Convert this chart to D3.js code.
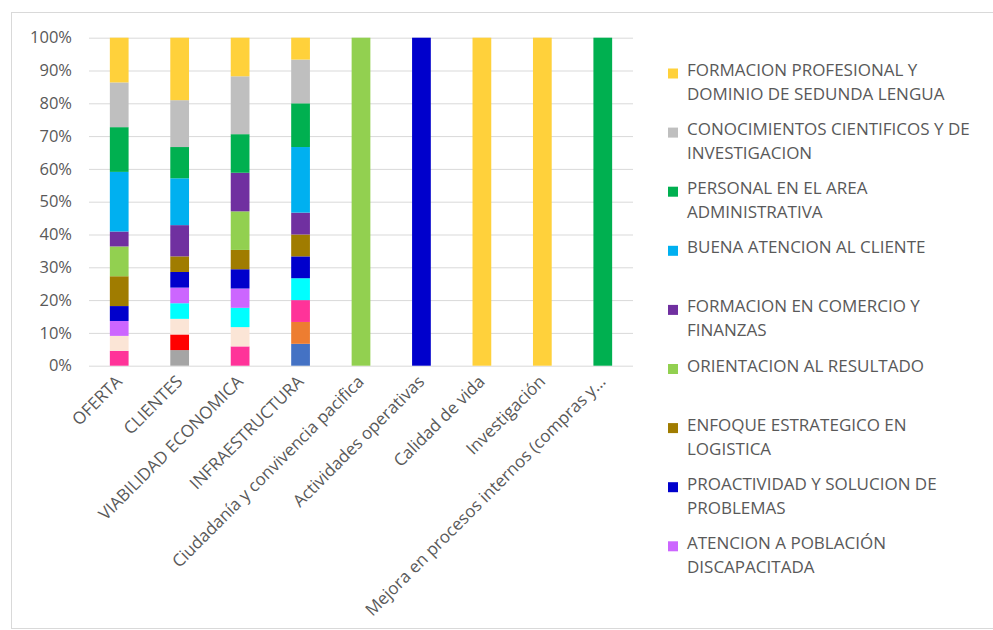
<html>
  <head>
        <meta charset="utf-8">
        <title>Factores por área</title>
        <style>
          body { margin: 0; background: #fff; }
          text { font-family: "Open Sans", sans-serif; fill: #595959; }
        </style>
  </head>
<body>

<script src="https://cdn.jsdelivr.net/npm/d3@7/dist/d3.min.js" charset="utf-8"></script>
<script>

// categorías del eje x
var categories = ["OFERTA", "CLIENTES", "VIABILIDAD ECONOMICA", "INFRAESTRUCTURA",
	"Ciudadanía y convivencia pacifica", "Actividades operativas", "Calidad de vida",
	"Investigación", "Mejora en procesos internos (compras y..."];

// series, de abajo hacia arriba en cada barra
var seriesNames = ["Serie 1", "Serie 2", "Serie 3", "Serie 4", "Serie 5", "Serie 6", "Serie 7",
	"ATENCION A POBLACIÓN DISCAPACITADA",
	"PROACTIVIDAD Y SOLUCION DE PROBLEMAS",
	"ENFOQUE ESTRATEGICO EN LOGISTICA",
	"ORIENTACION AL RESULTADO",
	"FORMACION EN COMERCIO Y FINANZAS",
	"BUENA ATENCION AL CLIENTE",
	"PERSONAL EN EL AREA ADMINISTRATIVA",
	"CONOCIMIENTOS CIENTIFICOS Y DE INVESTIGACION",
	"FORMACION PROFESIONAL Y DOMINIO DE SEDUNDA LENGUA"];

// conteos por serie (mismo orden que categories)
var s1  = [0, 0, 0, 1, 0, 0, 0, 0, 0];
var s2  = [0, 0, 0, 1, 0, 0, 0, 0, 0];
var s3  = [0, 1, 0, 0, 0, 0, 0, 0, 0];
var s4  = [0, 1, 0, 0, 0, 0, 0, 0, 0];
var s5  = [1, 0, 1, 1, 0, 0, 0, 0, 0];
var s6  = [1, 1, 1, 0, 0, 0, 0, 0, 0];
var s7  = [0, 1, 1, 1, 0, 0, 0, 0, 0];
var s8  = [1, 1, 1, 0, 0, 0, 0, 0, 0];
var s9  = [1, 1, 1, 1, 0, 1, 0, 0, 0];
var s10 = [2, 1, 1, 1, 0, 0, 0, 0, 0];
var s11 = [2, 0, 2, 0, 1, 0, 0, 0, 0];
var s12 = [1, 2, 2, 1, 0, 0, 0, 0, 0];
var s13 = [4, 3, 0, 3, 0, 0, 0, 0, 0];
var s14 = [3, 2, 2, 2, 0, 0, 0, 0, 1];
var s15 = [3, 3, 3, 2, 0, 0, 0, 0, 0];
var s16 = [3, 4, 2, 1, 0, 0, 1, 1, 0];
var seriesValues = [s1, s2, s3, s4, s5, s6, s7, s8, s9, s10, s11, s12, s13, s14, s15, s16];

var yTicks = [0, 0.1, 0.2, 0.3, 0.4, 0.5, 0.6, 0.7, 0.8, 0.9, 1];

var colors = ["#4472C4", "#ED7D31", "#A5A5A5", "#FF0000", "#FF3399", "#FBE5D6", "#00FFFF",
	"#CC66FF", "#0000CC", "#A07C00", "#92D050", "#7030A0", "#00B0F0", "#00B050",
	"#BFBFBF", "#FFD13B"];

var width  = 993;
var height = 630;

var svg = d3.select("body")
			.append("svg")
			.attr("width", width)
			.attr("height", height);

// marco del gráfico
svg.append("rect")
	.attr("x", 11.5).attr("y", 12.5)
	.attr("width", 1000).attr("height", 616)
	.attr("fill", "#fff")
	.attr("stroke", "#D9D9D9");

var plot = { left: 89, right: 633, top: 37.7, bottom: 365.7 };

// tabla para d3.stack
var table = categories.map(function(c, i){
	var row = { cat: c };
	seriesNames.forEach(function(n, j){ row[j] = seriesValues[j][i]; });
	return row;
});

var stack = d3.stack()
			.keys(d3.range(seriesNames.length))
			.offset(d3.stackOffsetExpand);
var layers = stack(table);

var x = d3.scaleBand()
		.domain(categories)
		.range([plot.left, plot.right])
		.paddingInner(0.69)
		.paddingOuter(0.345);

var y = d3.scaleLinear()
		.domain([0, 1])
		.range([plot.bottom, plot.top]);

// líneas de la cuadrícula y etiquetas del eje y
var yAxis = d3.axisLeft(y)
		.tickValues(yTicks)
		.tickFormat(d3.format(".0%"))
		.tickSize(-(plot.right - plot.left))
		.tickPadding(17);

var gy = svg.append("g")
		.attr("transform", "translate(" + plot.left + ",0)")
		.call(yAxis);
gy.select(".domain").remove();
gy.selectAll("line").attr("stroke", "#D9D9D9");
gy.selectAll("text")
	.attr("font-size", "16.5px")
	.attr("font-family", "'Open Sans', sans-serif")
	.attr("fill", "#595959");

// barras apiladas
svg.selectAll("g.layer")
	.data(layers)
	.enter()
	.append("g")
	.attr("class", "layer")
	.attr("fill", function(d){ return colors[d.key]; })
	.selectAll("rect")
	.data(function(d){ return d; })
	.enter()
	.append("rect")
	.attr("x", function(d){ return x(d.data.cat); })
	.attr("y", function(d){ return y(d[1]); })
	.attr("width", x.bandwidth())
	.attr("height", function(d){ return y(d[0]) - y(d[1]); });

// etiquetas del eje x
var xAxis = d3.axisBottom(x).tickSize(0).tickPadding(0);
var gx = svg.append("g")
		.attr("transform", "translate(0," + plot.bottom + ")")
		.call(xAxis);
gx.select(".domain").remove();
gx.selectAll("text")
	.attr("font-size", "17px")
	.attr("font-family", "'Open Sans', sans-serif")
	.attr("fill", "#595959")
	.attr("text-anchor", "end")
	.attr("y", 0)
	.attr("dy", 0)
	.attr("transform", "translate(4,17) rotate(-45)");

// leyenda (sólo caben las primeras 9 entradas)
var legendIdx = d3.range(seriesNames.length - 1, seriesNames.length - 10, -1);
var legend = svg.selectAll("g.legend")
		.data(legendIdx)
		.enter()
		.append("g")
		.attr("class", "legend")
		.attr("transform", function(d, i){ return "translate(668," + (70 + i * 59.1) + ")"; });

legend.append("rect")
	.attr("x", 0).attr("y", -1.5)
	.attr("width", 10).attr("height", 10)
	.attr("fill", function(d){ return colors[d]; });

legend.each(function(d){
	var g = d3.select(this);
	var words = seriesNames[d].split(" ");
	var t = g.append("text")
			.attr("font-size", "17px")
			.attr("x", 19);
	var line = [], lineNo = 0;
	var ts = t.append("tspan").attr("x", 19).attr("y", 6);
	words.forEach(function(w){
		line.push(w);
		ts.text(line.join(" "));
		if (ts.node().getComputedTextLength() > 292 && line.length > 1) {
			line.pop();
			ts.text(line.join(" "));
			line = [w];
			lineNo++;
			ts = t.append("tspan").attr("x", 19).attr("y", 6 + lineNo * 24).text(w);
		}
	});
});

</script>

</body>

</html>
